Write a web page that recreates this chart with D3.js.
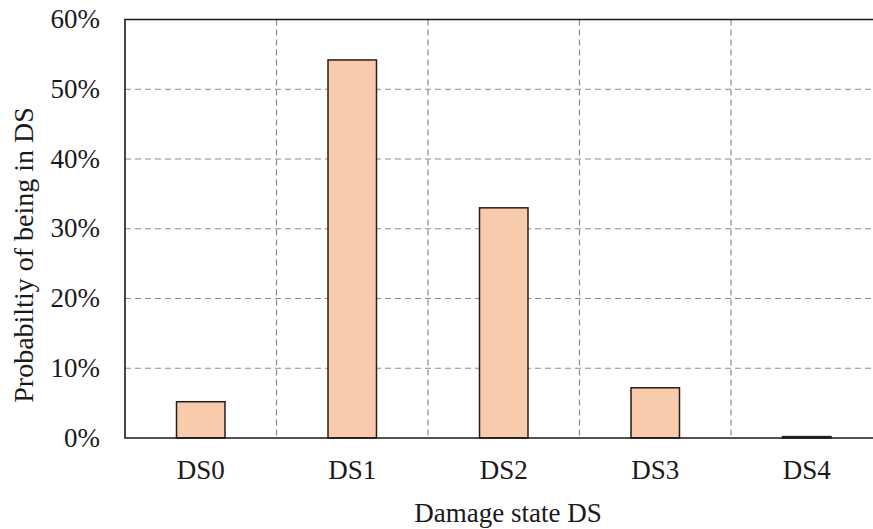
<!DOCTYPE html>
<html>
<head>
<meta charset="utf-8">
<script src="https://cdn.jsdelivr.net/npm/d3@7"></script>
<style>
  body { margin: 0; background: #fff; }
  text { font-family: "Liberation Serif", "Times New Roman", serif; fill: #1a1a1a; }
</style>
</head>
<body>
<script>
var states = ["DS0", "DS1", "DS2", "DS3", "DS4"];
var probs = [0.052, 0.542, 0.330, 0.072, 0.002];
var yTicks = [0, 0.1, 0.2, 0.3, 0.4, 0.5, 0.6];

var W = 873, H = 529;
var plotLeft = 125, plotTop = 19.5, plotBottom = 438;
var band = 151.5;

var svg = d3.select("body").append("svg")
    .attr("width", W)
    .attr("height", H);

var x = d3.scaleBand()
    .domain(states)
    .range([plotLeft, plotLeft + band * states.length])
    .padding(0);

var y = d3.scaleLinear()
    .domain([0, 0.6])
    .range([plotBottom, plotTop]);

var fmt = d3.format(".0%");

// horizontal grid
svg.selectAll("line.hgrid").data(yTicks.filter(function(d){ return d > 0 && d < 0.6; }))
  .enter().append("line")
    .attr("class", "hgrid")
    .attr("x1", plotLeft).attr("x2", x.range()[1])
    .attr("y1", function(d){ return y(d); })
    .attr("y2", function(d){ return y(d); })
    .attr("stroke", "#8a8a8a")
    .attr("stroke-width", 1.2)
    .attr("stroke-dasharray", "6,4");

// vertical grid at category boundaries
svg.selectAll("line.vgrid").data(states.slice(1))
  .enter().append("line")
    .attr("class", "vgrid")
    .attr("x1", function(d){ return x(d); })
    .attr("x2", function(d){ return x(d); })
    .attr("y1", plotTop).attr("y2", plotBottom)
    .attr("stroke", "#8a8a8a")
    .attr("stroke-width", 1.2)
    .attr("stroke-dasharray", "6,4");

// bars
var bw = x.bandwidth() * 0.32;
svg.selectAll("rect.bar").data(probs)
  .enter().append("rect")
    .attr("class", "bar")
    .attr("x", function(d, i){ return x(states[i]) + x.bandwidth() / 2 - bw / 2; })
    .attr("y", function(d){ return y(d); })
    .attr("width", bw)
    .attr("height", function(d){ return plotBottom - y(d); })
    .attr("fill", "#f8cbad")
    .attr("stroke", "#2a1d16")
    .attr("stroke-width", 1.5);

// frame (left, top, bottom)
svg.append("path")
    .attr("d", "M" + x.range()[1] + "," + plotTop + "H" + plotLeft + "V" + plotBottom + "H" + x.range()[1])
    .attr("fill", "none")
    .attr("stroke", "#1a1a1a")
    .attr("stroke-width", 1.6);

// y tick labels
svg.selectAll("text.ytick").data(yTicks)
  .enter().append("text")
    .attr("class", "ytick")
    .attr("x", 100)
    .attr("y", function(d){ return y(d); })
    .attr("dy", "0.32em")
    .attr("text-anchor", "end")
    .style("font-size", "27px")
    .text(fmt);

// x tick labels
svg.selectAll("text.xtick").data(states)
  .enter().append("text")
    .attr("class", "xtick")
    .attr("x", function(d){ return x(d) + x.bandwidth() / 2; })
    .attr("y", 479)
    .attr("text-anchor", "middle")
    .style("font-size", "27px")
    .text(function(d){ return d; });

// axis titles
svg.append("text")
    .attr("x", 508)
    .attr("y", 522)
    .attr("text-anchor", "middle")
    .style("font-size", "27px")
    .text("Damage  state DS");

svg.append("text")
    .attr("transform", "translate(33,255) rotate(-90)")
    .attr("text-anchor", "middle")
    .style("font-size", "28px")
    .text("Probabiltiy  of being in DS");
</script>
</body>
</html>
